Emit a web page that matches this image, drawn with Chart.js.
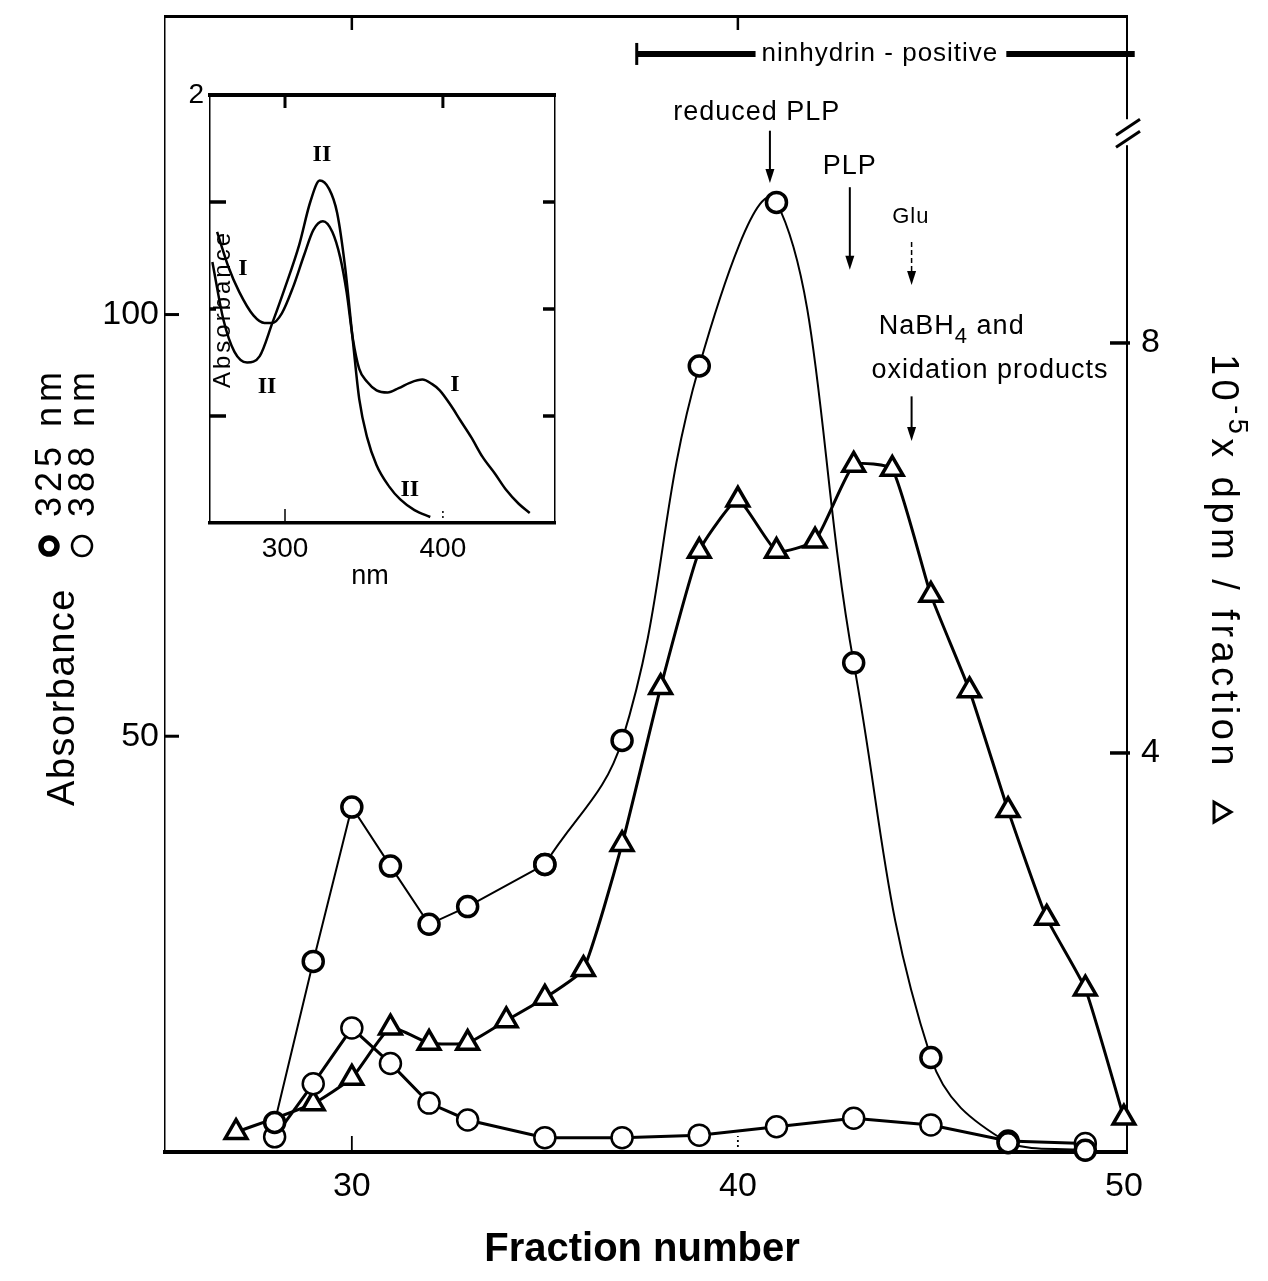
<!DOCTYPE html>
<html>
<head>
<meta charset="utf-8">
<script src="https://cdn.jsdelivr.net/npm/chart.js@4.4.1/dist/chart.umd.min.js"></script>
<style>
  html, body { margin: 0; padding: 0; background: #fff; }
  #wrap { position: relative; width: 1268px; height: 1281px; }
  #main { position: absolute; left: 0; top: 0; }
  #inset { position: absolute; left: 150px; top: 60px; }
</style>
</head>
<body>
<div id="wrap">
  <canvas id="main" width="1268" height="1281"></canvas>
  <canvas id="inset" width="430" height="540"></canvas>
</div>
<script>
// ---- main chart data ----
const fracAbs = [28, 29, 30, 31, 32, 33, 35, 37, 39, 41, 43, 45, 47, 49];
const abs325 = [4.2, 23.3, 41.6, 34.6, 27.7, 29.8, 34.8, 49.5, 93.9, 113.3, 58.7, 11.9, 1.8, 0.9];
const abs388 = [2.5, 8.8, 15.4, 11.2, 6.5, 4.5, 2.4, 2.4, 2.7, 3.7, 4.7, 3.9, 2.0, 1.7];

const fracDpm = [27, 29, 30, 31, 32, 33, 34, 35, 36, 37, 38, 39, 40, 41, 42, 43, 44, 45, 46, 47, 48, 49, 50];
const dpm = [0.30, 0.58, 0.83, 1.32, 1.17, 1.17, 1.39, 1.61, 1.89, 3.11, 4.64, 5.97, 6.47, 5.97, 6.07, 6.81, 6.77, 5.54, 4.61, 3.44, 2.39, 1.70, 0.44];

const xTicks = [30, 40, 50];
const absTicks = [50, 100];
const dpmTicks = [4, 8];

// ---- inset data (absorption spectra) ----
const nmI = [257, 264, 271, 280, 287, 292, 298, 305, 312, 318, 324, 330, 335, 339, 343, 347, 352, 358, 365, 372, 379, 387, 393, 398, 405, 411, 418, 425, 433, 440, 448, 455];
const absI = [1.36, 1.20, 1.08, 0.97, 0.935, 0.935, 0.98, 1.10, 1.25, 1.37, 1.41, 1.36, 1.24, 1.08, 0.86, 0.72, 0.66, 0.62, 0.61, 0.63, 0.655, 0.67, 0.65, 0.62, 0.55, 0.48, 0.40, 0.31, 0.23, 0.155, 0.09, 0.047];
const nmII = [254, 261, 268, 276, 284, 292, 300, 309, 316, 322, 328, 333, 338, 343, 347, 352, 358, 366, 373, 382, 392];
const absII = [1.22, 0.95, 0.80, 0.75, 0.78, 0.935, 1.10, 1.30, 1.50, 1.60, 1.56, 1.45, 1.20, 0.85, 0.58, 0.40, 0.27, 0.17, 0.11, 0.06, 0.028];

const nmTicks = [300, 400];
const insetTopTick = [2];
const insetMinorTicks = [0.5, 1, 1.5];

const FONT = '"Liberation Sans", Arial, sans-serif';
const SERIF = '"Liberation Serif", "DejaVu Serif", serif';

function pts(xs, ys) { return xs.map((x, i) => ({ x: x, y: ys[i] })); }

// fixed box size for an axis, and no extra padding for labels at the ends
function fixBox(size) {
  return s => {
    if (s.isHorizontal()) s.height = size; else s.width = size;
    s.paddingTop = 0; s.paddingBottom = 0; s.paddingLeft = 0; s.paddingRight = 0;
  };
}

function seg(ctx, x1, y1, x2, y2, w, dash) {
  ctx.save();
  ctx.lineWidth = w;
  ctx.strokeStyle = '#000';
  ctx.setLineDash(dash || []);
  ctx.beginPath();
  ctx.moveTo(x1, y1);
  ctx.lineTo(x2, y2);
  ctx.stroke();
  ctx.restore();
}

function arrowDown(ctx, x, y1, y2, w, dash) {
  seg(ctx, x, y1, x, y2 - 10, w, dash);
  ctx.beginPath();
  ctx.moveTo(x - 4.5, y2 - 14);
  ctx.lineTo(x + 4.5, y2 - 14);
  ctx.lineTo(x, y2);
  ctx.closePath();
  ctx.fill();
}

// draws a run of text pieces [text, size, dy] starting at x (or centred)
function pieces(ctx, list, x, y, center, family) {
  let w = 0;
  list.forEach(p => { ctx.font = p[1] + 'px ' + (family || FONT); w += ctx.measureText(p[0]).width; });
  let cx = center ? x - w / 2 : x;
  ctx.textAlign = 'left';
  list.forEach(p => {
    ctx.font = p[1] + 'px ' + (family || FONT);
    ctx.fillText(p[0], cx, y + (p[2] || 0));
    cx += ctx.measureText(p[0]).width;
  });
  return w;
}

const mainDecor = {
  id: 'mainDecor',
  afterDraw(chart) {
    const ctx = chart.ctx;
    const a = chart.chartArea;
    const sx = chart.scales.x, yl = chart.scales.yL, yr = chart.scales.yR;
    const X = v => sx.getPixelForValue(v);
    const Y = v => yl.getPixelForValue(v);
    ctx.save();
    ctx.fillStyle = '#000';
    ctx.lineCap = 'butt';

    // inward tick marks
    xTicks.slice(0, 2).forEach(v => seg(ctx, X(v), a.top, X(v), a.top + 14, 2.5));
    seg(ctx, X(30), a.bottom, X(30), a.bottom - 16, 1.8);
    seg(ctx, X(40), a.bottom, X(40), a.bottom - 16, 1.8, [2, 3]);
    absTicks.forEach(v => seg(ctx, a.left, yl.getPixelForValue(v), a.left + 14, yl.getPixelForValue(v), 3));
    dpmTicks.forEach(v => seg(ctx, a.right - 17, yr.getPixelForValue(v), a.right + 3, yr.getPixelForValue(v), 3.5));

    // axis break on right axis
    const by = Y(121.5);
    ctx.fillStyle = '#fff';
    ctx.fillRect(a.right - 4, by - 14, 8, 26);
    ctx.fillStyle = '#000';
    seg(ctx, a.right - 11, by + 2, a.right + 13, by - 14, 3);
    seg(ctx, a.right - 11, by + 14, a.right + 13, by - 2, 3);

    // ninhydrin-positive bar
    ctx.textBaseline = 'middle';
    ctx.letterSpacing = '1px';
    ctx.font = '26px ' + FONT;
    const ny = Y(130.9);
    const tx = X(43.68);
    const tw = ctx.measureText('ninhydrin - positive').width;
    ctx.textAlign = 'center';
    ctx.fillText('ninhydrin - positive', tx, ny);
    seg(ctx, X(37.38), ny, tx - tw / 2 - 6, ny, 6);
    seg(ctx, X(37.38), ny - 11, X(37.38), ny + 11, 3);
    seg(ctx, tx + tw / 2 + 8, ny, X(50.28), ny, 6);

    // peak annotations
    ctx.font = '27px ' + FONT;
    ctx.fillText('reduced PLP', X(40.49), Y(124.0));
    arrowDown(ctx, X(40.83), Y(121.8), Y(115.6), 2);
    ctx.fillText('PLP', X(42.9), Y(117.6));
    arrowDown(ctx, X(42.9), Y(115.1), Y(105.3), 2);
    ctx.font = '22px ' + FONT;
    ctx.fillText('Glu', X(44.48), Y(111.6));
    arrowDown(ctx, X(44.5), Y(108.6), Y(103.5), 1.5, [5, 3]);
    ctx.textBaseline = 'alphabetic';
    pieces(ctx, [['NaBH', 27], ['4', 22, 9], [' and', 27]], X(45.54), Y(98.8) + 9, true);
    ctx.textAlign = 'center';
    ctx.font = '27px ' + FONT;
    ctx.fillText('oxidation products', X(46.53), Y(93.5) + 9);
    arrowDown(ctx, X(44.5), Y(90.3), Y(85.0), 2);
    ctx.letterSpacing = '0px';

    // x axis title
    ctx.textAlign = 'center';
    ctx.textBaseline = 'middle';
    ctx.font = 'bold 40px ' + FONT;
    ctx.fillText('Fraction number', 642, 1250);

    // left axis title (rotated)
    ctx.save();
    ctx.translate(74, 697);
    ctx.rotate(-Math.PI / 2);
    ctx.textBaseline = 'alphabetic';
    ctx.letterSpacing = '1.5px';
    ctx.font = '38px ' + FONT;
    ctx.textAlign = 'center';
    ctx.fillText('Absorbance', 0, 0);
    ctx.restore();

    [[61, '325 nm', 5.5, 8], [94, '388 nm', 2.5, 10]].forEach(r => {
      ctx.save();
      ctx.translate(r[0], 462);
      ctx.rotate(-Math.PI / 2);
      ctx.textBaseline = 'alphabetic';
      ctx.letterSpacing = '5px';
      ctx.font = '36px ' + FONT;
      const w = ctx.measureText(r[1]).width + 40;
      ctx.lineWidth = r[2];
      ctx.beginPath();
      ctx.arc(-w / 2 + 11, -12, r[3], 0, Math.PI * 2);
      ctx.stroke();
      ctx.textAlign = 'left';
      ctx.fillText(r[1], -w / 2 + 40, 0);
      ctx.restore();
    });

    // right axis title (rotated)
    ctx.save();
    ctx.translate(1212, 588);
    ctx.rotate(Math.PI / 2);
    ctx.textBaseline = 'alphabetic';
    ctx.letterSpacing = '4.5px';
    const list = [['10', 38], ['-5', 27, -17], ['x dpm / fraction  ', 38]];
    let w = 0;
    list.forEach(p => { ctx.font = p[1] + 'px ' + FONT; w += ctx.measureText(p[0]).width; });
    const start = -(w + 22) / 2;
    pieces(ctx, list, start, 0, false);
    ctx.lineWidth = 3;
    ctx.beginPath();
    ctx.moveTo(start + w + 2, -2);
    ctx.lineTo(start + w + 22, -2);
    ctx.lineTo(start + w + 12, -19);
    ctx.closePath();
    ctx.stroke();
    ctx.restore();

    ctx.restore();
  }
};

const pts325 = pts(fracAbs, abs325);
const split = fracAbs.indexOf(35);

new Chart(document.getElementById('main'), {
  type: 'line',
  data: {
    datasets: [
      {
        label: '325 nm (rising)', yAxisID: 'yL', data: pts325.slice(0, split + 1),
        borderColor: '#000', borderWidth: 2, tension: 0,
        pointStyle: 'circle', pointRadius: 10, pointBorderWidth: 3.5,
        pointBackgroundColor: '#fff', pointBorderColor: '#000', clip: false
      },
      {
        label: '325 nm', yAxisID: 'yL', data: pts325.slice(split),
        borderColor: '#000', borderWidth: 2, tension: 0.4,
        pointStyle: 'circle', pointRadius: 10, pointBorderWidth: 3.5,
        pointBackgroundColor: '#fff', pointBorderColor: '#000', clip: false
      },
      {
        label: '388 nm', yAxisID: 'yL', data: pts(fracAbs, abs388),
        borderColor: '#000', borderWidth: 3, tension: 0,
        pointStyle: 'circle', pointRadius: 10.5, pointBorderWidth: 2.5,
        pointBackgroundColor: '#fff', pointBorderColor: '#000', clip: false
      },
      {
        label: 'dpm', yAxisID: 'yR', data: pts(fracDpm, dpm),
        borderColor: '#000', borderWidth: 3, tension: 0.15,
        pointStyle: 'triangle', pointRadius: 12.5, pointBorderWidth: 3.5,
        pointBackgroundColor: '#fff', pointBorderColor: '#000', clip: false
      }
    ]
  },
  options: {
    responsive: false,
    animation: false,
    layout: { padding: { top: -6, left: 0, right: 0, bottom: 0 } },
    plugins: { legend: { display: false }, tooltip: { enabled: false } },
    scales: {
      x: {
        type: 'linear', position: 'bottom', min: 25.16, max: 50.08,
        afterBuildTicks: s => { s.ticks = xTicks.map(v => ({ value: v })); },
        afterFit: fixBox(129),
        grid: { display: false, drawTicks: false },
        border: { display: true, color: '#000', width: 4 },
        ticks: { color: '#000', font: { family: FONT, size: 34 }, padding: 14, autoSkip: false, maxRotation: 0 }
      },
      xTop: {
        type: 'linear', position: 'top', min: 25.16, max: 50.08,
        afterFit: fixBox(4),
        grid: { display: false, drawTicks: false },
        border: { display: true, color: '#000', width: 3 },
        ticks: { display: false }
      },
      yL: {
        type: 'linear', position: 'left', min: 0.7, max: 135.4,
        afterBuildTicks: s => { s.ticks = absTicks.map(v => ({ value: v })); },
        afterFit: fixBox(165),
        grid: { display: false, drawTicks: false },
        border: { display: true, color: '#000', width: 1.5, dash: [7, 3, 2, 3] },
        ticks: { color: '#000', font: { family: FONT, size: 34 }, padding: 6, autoSkip: false }
      },
      yR: {
        type: 'linear', position: 'right', min: 0.107, max: 11.19,
        afterBuildTicks: s => { s.ticks = dpmTicks.map(v => ({ value: v })); },
        afterFit: fixBox(141),
        grid: { display: false, drawTicks: false },
        border: { display: true, color: '#000', width: 2, dash: [10, 4, 2, 4] },
        ticks: { color: '#000', font: { family: FONT, size: 34 }, padding: 14, autoSkip: false }
      }
    }
  },
  plugins: [mainDecor]
});

// ---- inset ----
const insetDecor = {
  id: 'insetDecor',
  afterDraw(chart) {
    const ctx = chart.ctx;
    const a = chart.chartArea;
    const X = v => chart.scales.x.getPixelForValue(v);
    const Y = v => chart.scales.y.getPixelForValue(v);
    ctx.save();
    ctx.fillStyle = '#000';

    nmTicks.forEach(v => seg(ctx, X(v), a.top, X(v), a.top + 13, 3));
    seg(ctx, X(300), a.bottom, X(300), a.bottom - 14, 1.5);
    seg(ctx, X(400), a.bottom, X(400), a.bottom - 14, 1.5, [2, 3]);
    insetMinorTicks.forEach(v => {
      const w = v === 1 ? 6 : 16;
      seg(ctx, a.left, Y(v), a.left + w, Y(v), 3.5);
      seg(ctx, a.right - 12, Y(v), a.right, Y(v), 3.5);
    });

    // curve labels
    ctx.font = 'bold 24px ' + SERIF;
    ctx.textAlign = 'center';
    ctx.textBaseline = 'middle';
    ctx.fillText('II', X(323.4), Y(1.72));
    ctx.fillText('I', X(273.4), Y(1.19));
    ctx.fillText('II', X(288.6), Y(0.636));
    ctx.fillText('I', X(407.6), Y(0.645));
    ctx.fillText('II', X(379), Y(0.154));

    // axis titles
    ctx.font = '27px ' + FONT;
    ctx.fillText('nm', X(353.8), a.bottom + 54);

    ctx.save();
    ctx.translate(X(252.5) + 20, Y(1.0));
    ctx.rotate(-Math.PI / 2);
    ctx.letterSpacing = '3px';
    ctx.font = '24px ' + FONT;
    ctx.textBaseline = 'alphabetic';
    ctx.fillText('Absorbance', 0, 0);
    ctx.restore();

    ctx.restore();
  }
};

new Chart(document.getElementById('inset'), {
  type: 'line',
  data: {
    datasets: [
      {
        label: 'I', data: pts(nmI, absI), borderColor: '#000', borderWidth: 2.5,
        pointRadius: 0, cubicInterpolationMode: 'monotone'
      },
      {
        label: 'II', data: pts(nmII, absII), borderColor: '#000', borderWidth: 2.5,
        pointRadius: 0, cubicInterpolationMode: 'monotone'
      }
    ]
  },
  options: {
    responsive: false,
    animation: false,
    layout: { padding: 0 },
    plugins: { legend: { display: false }, tooltip: { enabled: false } },
    scales: {
      x: {
        type: 'linear', position: 'bottom', min: 252.5, max: 471,
        afterBuildTicks: s => { s.ticks = nmTicks.map(v => ({ value: v })); },
        afterFit: fixBox(77),
        grid: { display: false, drawTicks: false },
        border: { display: true, color: '#000', width: 3.5 },
        ticks: { color: '#000', font: { family: FONT, size: 28 }, padding: 9, autoSkip: false, maxRotation: 0 }
      },
      xTop: {
        type: 'linear', position: 'top', min: 252.5, max: 471,
        afterFit: fixBox(35),
        grid: { display: false, drawTicks: false },
        border: { display: true, color: '#000', width: 4 },
        ticks: { display: false }
      },
      y: {
        type: 'linear', position: 'left', min: 0, max: 2,
        afterBuildTicks: s => { s.ticks = insetTopTick.map(v => ({ value: v })); },
        afterFit: fixBox(60),
        grid: { display: false, drawTicks: false },
        border: { display: true, color: '#000', width: 1.5, dash: [6, 3, 2, 3] },
        ticks: { color: '#000', font: { family: FONT, size: 28 }, padding: 6, autoSkip: false }
      },
      yR: {
        type: 'linear', position: 'right', min: 0, max: 2,
        afterFit: fixBox(25),
        grid: { display: false, drawTicks: false },
        border: { display: true, color: '#000', width: 1.5, dash: [10, 4, 2, 4] },
        ticks: { display: false }
      }
    }
  },
  plugins: [insetDecor]
});
</script>
</body>
</html>
